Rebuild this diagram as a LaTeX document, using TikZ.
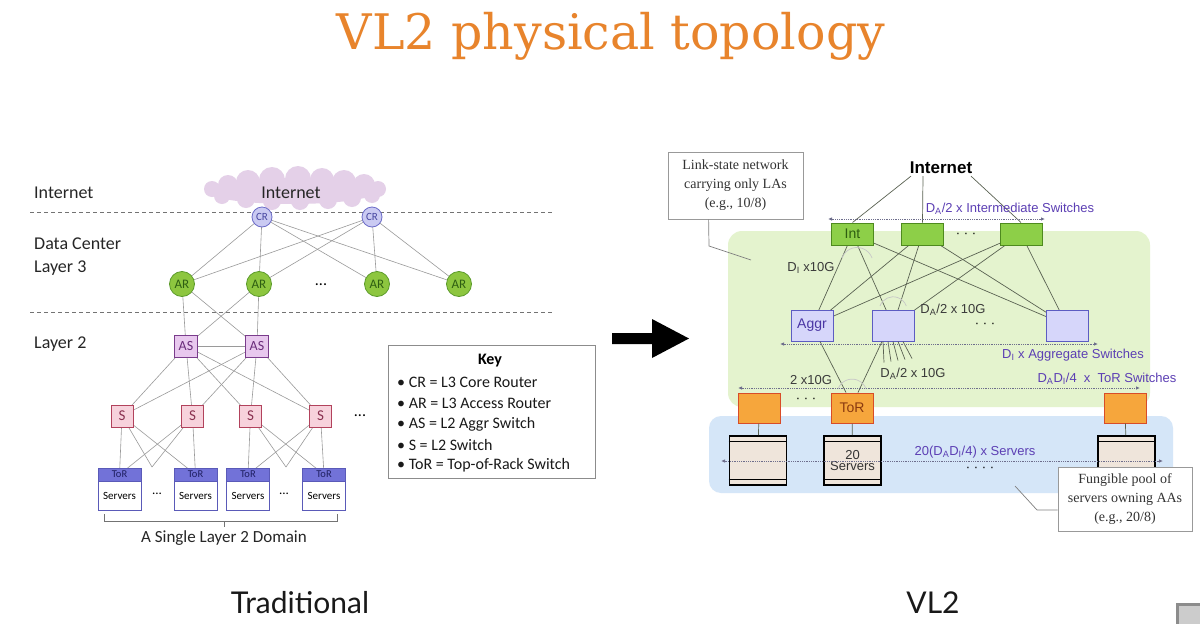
\documentclass[tikz,border=0pt]{standalone}
\usepackage{fontspec}
\setmainfont{Liberation Sans}
\newfontfamily\calfont{Carlito}
\newfontfamily\slabfont{DejaVu Serif}
\newfontfamily\capfont{Lato}
\newfontfamily\serfont{Liberation Serif}
\usetikzlibrary{arrows.meta,calc}

\definecolor{titleC}{HTML}{E8842C}
\definecolor{cloudC}{HTML}{E4D0E8}
\definecolor{crF}{HTML}{CACAF2}\definecolor{crB}{HTML}{6C6CC8}\definecolor{crT}{HTML}{4646A0}
\definecolor{arF}{HTML}{8DC63F}\definecolor{arB}{HTML}{5B9A2A}\definecolor{arT}{HTML}{2E5E12}
\definecolor{asF}{HTML}{E8C8EE}\definecolor{asB}{HTML}{7A3C8C}\definecolor{asT}{HTML}{6A2C7A}
\definecolor{sF}{HTML}{F7D2DC}\definecolor{sB}{HTML}{B2425C}\definecolor{sT}{HTML}{8A3050}
\definecolor{torF}{HTML}{7272D8}\definecolor{torB}{HTML}{5A5AB8}\definecolor{torT}{HTML}{1E1E60}
\definecolor{linkL}{HTML}{9A9A9A}
\definecolor{linkR}{HTML}{5A6252}
\definecolor{greenC}{HTML}{E4F3CE}
\definecolor{blueC}{HTML}{D5E6F8}
\definecolor{intF}{HTML}{8DCF48}\definecolor{intB}{HTML}{4E8A1E}\definecolor{intT}{HTML}{2E5E10}
\definecolor{agF}{HTML}{D6D6FA}\definecolor{agB}{HTML}{5C5CC2}\definecolor{agT}{HTML}{4A36A4}
\definecolor{rtF}{HTML}{F6A63C}\definecolor{rtB}{HTML}{D84C28}\definecolor{rtT}{HTML}{8A3A10}
\definecolor{rackC}{HTML}{EFE5DB}
\definecolor{purp}{HTML}{5C3FB4}
\definecolor{dimT}{HTML}{3A3A3A}
\definecolor{dotC}{HTML}{6E6E8C}

\newcommand{\VLDa}{D\textsubscript{A}}
\newcommand{\VLDi}{D\textsubscript{I}}

\begin{document}
\begin{tikzpicture}[x=1pt,y=-1pt,
  link/.style={draw=linkL, line width=0.6pt},
  vlink/.style={draw=linkR, line width=0.7pt},
  crnode/.style={circle, draw=crB, fill=crF, line width=0.8pt, minimum size=20pt, inner sep=0pt, text=crT, font=\calfont\fontsize{11}{11}\selectfont},
  arnode/.style={circle, draw=arB, fill=arF, line width=0.8pt, minimum size=25pt, inner sep=0pt, text=arT, font=\calfont\fontsize{13}{13}\selectfont},
  asnode/.style={rectangle, draw=asB, fill=asF, line width=0.9pt, minimum width=23pt, minimum height=22pt, inner sep=0pt, text=asT, font=\calfont\fontsize{14}{14}\selectfont},
  snode/.style={rectangle, draw=sB, fill=sF, line width=0.9pt, minimum size=22pt, inner sep=0pt, text=sT, font=\calfont\fontsize{15}{15}\selectfont},
  torhead/.style={rectangle, draw=torB, fill=torF, line width=0.8pt, minimum width=43pt, minimum height=13pt, inner sep=0pt, text=torT, font=\calfont\fontsize{10.5}{10.5}\selectfont},
  torbody/.style={rectangle, draw=torB, fill=white, line width=0.8pt, minimum width=43pt, minimum height=29pt, inner sep=0pt, font=\calfont\fontsize{11}{11}\selectfont},
  lbl/.style={anchor=west, inner sep=0pt, font=\calfont\fontsize{18}{18}\selectfont, text=black!85},
  keytxt/.style={anchor=west, inner sep=0pt, font=\calfont\fontsize{16}{16}\selectfont, text=black!90},
  dashline/.style={draw=black!55, line width=0.8pt, dash pattern=on 4pt off 3pt},
  intbox/.style={rectangle, draw=intB, fill=intF, line width=1pt, minimum width=42pt, minimum height=22pt, inner sep=0pt, text=intT, font=\fontsize{14}{14}\selectfont},
  agbox/.style={rectangle, draw=agB, fill=agF, line width=1pt, minimum width=42pt, minimum height=31pt, inner sep=0pt, text=agT, font=\fontsize{14}{14}\selectfont},
  rtbox/.style={rectangle, draw=rtB, fill=rtF, line width=1pt, minimum width=42pt, minimum height=30pt, inner sep=0pt, text=rtT, font=\fontsize{14}{14}\selectfont},
  rack/.style={rectangle, draw=black, fill=rackC, line width=1.6pt, minimum width=57pt, minimum height=49pt, inner sep=0pt, align=center, font=\fontsize{13}{13}\selectfont, text=black!80},
  rtxt/.style={inner sep=0pt, font=\fontsize{13}{13}\selectfont},
  dotarrow/.style={draw=dotC, line width=0.8pt, densely dotted, {Latex[length=4pt,width=3.5pt]}-{Latex[length=4pt,width=3.5pt]}},
  callout/.style={rectangle, draw=black!40, fill=white, line width=0.8pt, align=center, inner sep=0pt, text=black!80, font=\serfont\fontsize{14}{19}\selectfont},
  leader/.style={draw=black!50, line width=0.7pt},
  fanarc/.style={draw=black!22, line width=0.7pt}
]
\useasboundingbox (0,0) rectangle (1200,624);
\fill[white] (0,0) rectangle (1200,624);

% ---------- title ----------
\node[inner sep=0pt, text=titleC, font=\slabfont\fontsize{49}{49}\selectfont] (title) at (611,36) {VL2 physical topology};

% ---------- traditional tree ----------
% flat cloud built from overlapping puffs
\fill[cloudC] (292,191) ellipse[x radius=86, y radius=13];
\foreach \px/\py/\pr in {212/189/8, 228/185/10, 248/182/12, 272/180/13, 298/179/13, 322/180/12, 344/182/12, 364/185/11, 378/189/8,
                         222/196/8, 246/199/9, 272/201/9, 300/201/9, 328/200/9, 352/198/9, 372/195/8}
  \fill[cloudC] (\px,\py) circle[radius=\pr];
\node[inner sep=0pt, text=black!85, font=\calfont\fontsize{18}{18}\selectfont] (cloud) at (291,193) {Internet};

\node[lbl] (lInt) at (34,193) {Internet};
\node[lbl] (lDC) at (34,244) {Data Center};
\node[lbl] (lL3) at (34,268) {Layer 3};
\node[lbl] (lL2) at (34,344) {Layer 2};

\draw[dashline] (30,212) -- (552,212);
\draw[dashline] (30,312) -- (552,312);

\coordinate (cr1) at (262,217);
\coordinate (cr2) at (372,217);
\coordinate (ar1) at (182,284);
\coordinate (ar2) at (259,284);
\coordinate (ar3) at (377,284);
\coordinate (ar4) at (459,284);
\coordinate (as1) at (186,346);
\coordinate (as2) at (257,346);
\coordinate (s1) at (122,416);
\coordinate (s2) at (192.5,416);
\coordinate (s3) at (250.5,416);
\coordinate (s4) at (320.5,416);
\coordinate (t1) at (119.5,474.5);
\coordinate (t2) at (195.5,474.5);
\coordinate (t3) at (248,474.5);
\coordinate (t4) at (324,474.5);
\coordinate (mA) at (152,467);
\coordinate (mB) at (286,467);

% links first, devices on top of them
\foreach \c in {cr1,cr2}
  \foreach \a in {ar1,ar2,ar3,ar4}
    \draw[link] (\c) -- (\a);
\foreach \a in {ar1,ar2}
  \foreach \b in {as1,as2}
    \draw[link] (\a) -- (\b);
\draw[link] (as1) -- (as2);
\foreach \a in {as1,as2}
  \foreach \b in {s1,s2,s3,s4}
    \draw[link] (\a) -- (\b);
\foreach \a in {s1,s2}
  \foreach \b in {t1,t2,mA}
    \draw[link] (\a) -- (\b);
\foreach \a in {s3,s4}
  \foreach \b in {t3,t4,mB}
    \draw[link] (\a) -- (\b);

\node[crnode] (CR1) at (cr1) {CR};
\node[crnode] (CR2) at (cr2) {CR};
\node[arnode] (AR1) at (ar1) {AR};
\node[arnode] (AR2) at (ar2) {AR};
\node[arnode] (AR3) at (ar3) {AR};
\node[arnode] (AR4) at (ar4) {AR};
\node[inner sep=0pt, font=\calfont\fontsize{16}{16}\selectfont] (ard) at (321,285) {...};
\node[asnode] (AS1) at (as1) {AS};
\node[asnode] (AS2) at (as2) {AS};
\node[snode] (S1) at (s1) {S};
\node[snode] (S2) at (s2) {S};
\node[snode] (S3) at (s3) {S};
\node[snode] (S4) at (s4) {S};
\node[inner sep=0pt, font=\calfont\fontsize{16}{16}\selectfont] (sd) at (360,416) {...};

\node[torhead] (T1) at (t1) {ToR};
\node[torhead] (T2) at (t2) {ToR};
\node[torhead] (T3) at (t3) {ToR};
\node[torhead] (T4) at (t4) {ToR};
\node[torbody, anchor=north] (v1) at (T1.south) {Servers};
\node[torbody, anchor=north] (v2) at (T2.south) {Servers};
\node[torbody, anchor=north] (v3) at (T3.south) {Servers};
\node[torbody, anchor=north] (v4) at (T4.south) {Servers};
\node[inner sep=0pt, font=\calfont\fontsize{13}{13}\selectfont] (td1) at (157,494) {...};
\node[inner sep=0pt, font=\calfont\fontsize{13}{13}\selectfont] (td2) at (284,494) {...};

% bracket under the racks
\draw[draw=black!55, line width=0.8pt] (104,514) -- (104,521) -- (337,521) -- (337,514);
\draw[draw=black!55, line width=0.8pt] (224,521) -- (224,527);
\node[inner sep=0pt, text=black!85, font=\calfont\fontsize{17}{17}\selectfont] (dom) at (224,538) {A Single Layer 2 Domain};

% key
\node[rectangle, draw=black!45, line width=0.8pt, minimum width=207pt, minimum height=133pt, inner sep=0pt] (key) at (491.5,411.5) {};
\node[inner sep=0pt, font=\calfont\bfseries\fontsize{16}{16}\selectfont] (keyh) at (490,361) {Key};
\node[keytxt] (k1) at (397,382) {• CR = L3 Core Router};
\node[keytxt] (k2) at (397,403) {• AR = L3 Access Router};
\node[keytxt] (k3) at (397,424) {• AS = L2 Aggr Switch};
\node[keytxt] (k4) at (397,445) {• S = L2 Switch};
\node[keytxt] (k5) at (397,465) {• ToR = Top-of-Rack Switch};

% ---------- arrow between the two halves ----------
\fill[black] (612,333) -- (652,333) -- (652,319) -- (689,338.5) -- (652,358) -- (652,344) -- (612,344) -- cycle;

% ---------- VL2 ----------
\fill[greenC, rounded corners=14pt] (728,231) rectangle (1150,407);
\fill[blueC, rounded corners=12pt] (709,416) rectangle (1173,493);

\node[callout, minimum width=135pt, minimum height=67pt] (cb1) at (735.5,185.5) {Link-state network\\carrying only LAs\\(e.g., 10/8)};
\coordinate (kA) at (709,246);
\coordinate (kB) at (751,260);
\draw[leader] ([xshift=41pt]cb1.south west) -- (kA) -- (kB);

\node[inner sep=2pt, font=\bfseries\fontsize{17}{17}\selectfont] (inet) at (941,168) {Internet};

\coordinate (i1) at (852.5,234);
\coordinate (i2) at (922.5,234);
\coordinate (i3) at (1021,234);
\coordinate (a1) at (812,325.5);
\coordinate (a2) at (893,325.5);
\coordinate (a3) at (1067,325.5);

% links
\foreach \i in {i1,i2,i3}
  \foreach \a in {a1,a2,a3}
    \draw[vlink] (\i) -- (\a);

\node[intbox] (I1) at (i1) {Int};
\node[intbox] (I2) at (i2) {};
\node[intbox] (I3) at (i3) {};
\node[rtxt] (id) at (966,235) {· · ·};

\node[agbox] (A1) at (a1) {Aggr};
\node[agbox] (A2) at (a2) {};
\node[agbox] (A3) at (a3) {};
\node[rtxt] (ad) at (985,325) {· · ·};

\node[rtbox] (R1) at (759,408) {};
\node[rtbox] (R2) at (852,408) {ToR};
\node[rtbox] (R3) at (1125,408) {};
\node[rtxt] (rd) at (806,400) {· · ·};

\node[rack] (M1) at (758,460.5) {};
\node[rack] (M2) at (852.5,460.5) {20\\[-2pt]Servers};
\node[rack] (M3) at (1126.5,460.5) {};
\foreach \m in {M1,M2,M3} {
  \draw[line width=1.2pt] ([yshift=-6pt]\m.north west) -- ([yshift=-6pt]\m.north east);
  \draw[line width=1.2pt] ([yshift=6pt]\m.south west) -- ([yshift=6pt]\m.south east);
}

\draw[vlink] ([xshift=-30pt]inet.south) -- (I1.north);
\draw[vlink] ([xshift=-18pt]inet.south) -- (I2.north);
\draw[vlink] ([xshift=30pt]inet.south) -- (I3.north);
\draw[vlink] ([xshift=8pt]A1.south) -- ([xshift=-6pt]R2.north);
\draw[vlink] ([xshift=-11pt]A2.south) -- ([xshift=6pt]R2.north);
\foreach \k in {0,...,4}
  \draw[vlink] ([xshift={(-10+5*\k)*1pt}]A2.south) -- ([xshift={(-9+7*\k)*1pt}, yshift={(-21+\k)*1pt}]A2.south);
\draw[vlink] (R1) -- (M1);
\draw[vlink] (R2) -- (M2);
\draw[vlink] (R3) -- (M3);

% faint arcs marking the link fans
\draw[fanarc] (842,258) arc[start angle=200, end angle=340, radius=16];
\draw[fanarc] (880,306) arc[start angle=-160, end angle=-20, radius=14];
\draw[fanarc] (838,389) arc[start angle=-160, end angle=-20, radius=15];

% dimension arrows
\coordinate (dA1) at (828,219);  \coordinate (dA2) at (1045,219);
\coordinate (dB1) at (780,344);  \coordinate (dB2) at (1098,344);
\coordinate (dC1) at (738,388);  \coordinate (dC2) at (1140,388);
\coordinate (dD1) at (721,461);  \coordinate (dD2) at (1163,461);
\draw[dotarrow] (dA1) -- (dA2);
\draw[dotarrow] (dB1) -- (dB2);
\draw[dotarrow] (dC1) -- (dC2);
\draw[dotarrow] (dD1) -- (dD2);

\node[rtxt, text=purp] (lA) at (1010,209) {\VLDa/2 x Intermediate Switches};
\node[rtxt, text=purp] (lB) at (1073,355) {\VLDi{} x Aggregate Switches};
\node[rtxt, text=purp] (lC) at (1107,379) {\VLDa\VLDi/4\ \ x\ \ ToR Switches};
\node[rtxt, text=purp] (lD) at (975,452) {20(\VLDa\VLDi/4) x Servers};
\node[rtxt, text=dimT] (lE) at (811,268) {\VLDi{} x10G};
\node[rtxt, text=dimT] (lF) at (953,310) {\VLDa/2 x 10G};
\node[rtxt, text=dimT] (lG) at (913,374) {\VLDa/2 x 10G};
\node[rtxt, text=dimT] (lH) at (811,380) {2 x10G};
\node[rtxt] (sdots) at (980,469) {· · · ·};

\node[callout, minimum width=134pt, minimum height=64pt] (cb2) at (1125,499) {Fungible pool of\\servers owning AAs\\(e.g., 20/8)};
\coordinate (kC) at (1015,486);
\coordinate (kD) at (1037,510);
\draw[leader] (kC) -- (kD) -- (kD -| cb2.west);

% ---------- captions ----------
\node[inner sep=0pt, text=black!90, font=\capfont\fontsize{30}{30}\selectfont] (capL) at (300,603) {Traditional};
\node[inner sep=0pt, text=black!90, font=\capfont\fontsize{30}{30}\selectfont] (capR) at (933,603) {VL2};

% player badge in the corner
\fill[black!45] (1176,603) rectangle (1200,624);
\fill[black!20] (1179,606) rectangle (1200,624);
\end{tikzpicture}
\end{document}
